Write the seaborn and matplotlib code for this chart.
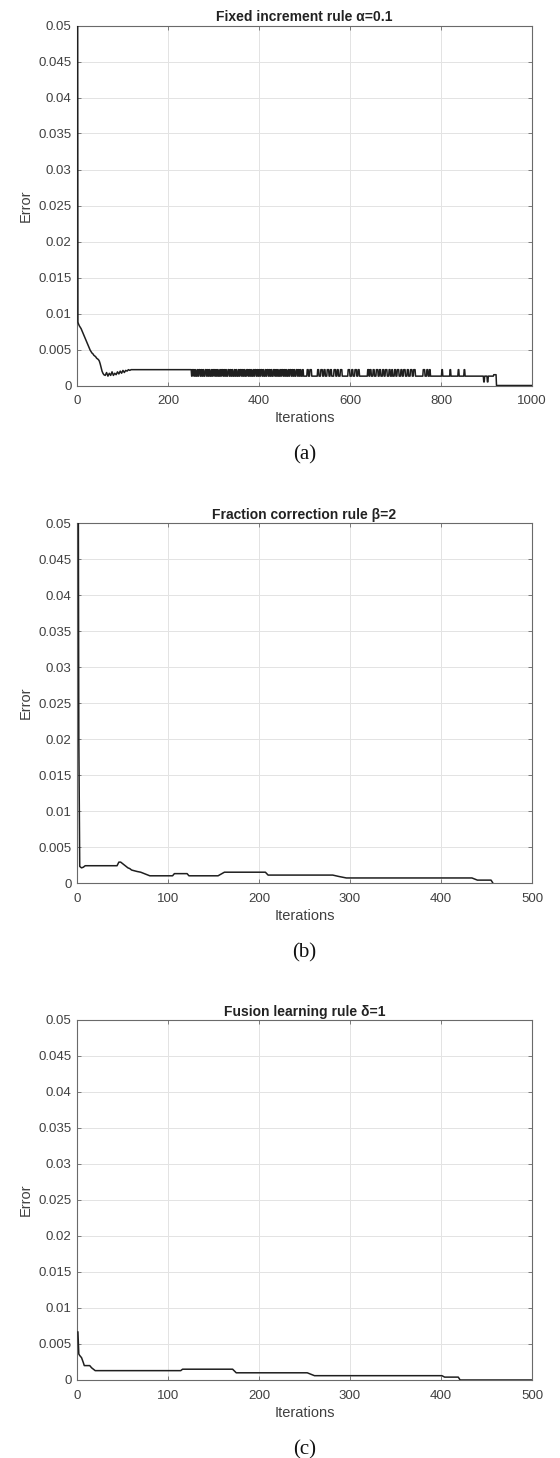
import numpy as np
import pandas as pd
import matplotlib
matplotlib.use("Agg")
import matplotlib.pyplot as plt
import seaborn as sns

# ---------------- data ----------------
titles = ["Fixed increment rule α=0.1", "Fraction correction rule β=2", "Fusion learning rule δ=1"]
captions = ["(a)", "(b)", "(c)"]
y_ticks = [0, 0.005, 0.01, 0.015, 0.02, 0.025, 0.03, 0.035, 0.04, 0.045, 0.05]
y_tick_labels = ["0", "0.005", "0.01", "0.015", "0.02", "0.025", "0.03", "0.035", "0.04", "0.045", "0.05"]
a_x_ticks = [0, 200, 400, 600, 800, 1000]
bc_x_ticks = [0, 100, 200, 300, 400, 500]

# panel (a): early descent (explicit points)
a_early_x = [1, 2, 3, 5, 7, 9, 11, 13, 15, 17, 19, 21, 23, 25, 27, 29, 31, 33, 35, 37, 39,
             41, 43, 45, 47, 49, 51, 53, 55, 57, 59, 62, 65, 68, 71, 74, 77, 80, 83, 86,
             89, 92, 95, 98, 101, 104, 107, 110, 113, 116, 119]
a_early_y = [0.09, 0.0088, 0.0086, 0.0083, 0.0081, 0.0079, 0.0076, 0.0073, 0.0070, 0.0067,
             0.0064, 0.0061, 0.0058, 0.0055, 0.0052, 0.0049, 0.0047, 0.0045, 0.0044, 0.0042,
             0.0041, 0.0040, 0.0038, 0.0037, 0.0036, 0.0034, 0.0030, 0.0025, 0.0020, 0.0017,
             0.0015, 0.0014, 0.0018, 0.0013, 0.0017, 0.0014, 0.0019, 0.0014, 0.0017, 0.0015,
             0.0019, 0.0016, 0.0020, 0.0017, 0.0021, 0.0018, 0.0021, 0.0020, 0.0022, 0.0021, 0.0022]
# panel (a): level codes per iteration from 120 on
a_levels = {"H": 0.0022, "L": 0.0013, "D": 0.0005, "M": 0.0015, "Z": 0.0}
a_flat = [(120, 250, "H"), (250, 922, "L"), (922, 1001, "Z")]
a_bursts = [
    (250, "HHLLHHHLLHHLLLHHLLHHHLLHHLLHHLLLHHHLLHHLLHHLLLHHLL"
          "HHHLLHHLLHHLLLHHLLHHHLLHHLLHHLLLHHHLLHHLLHHLLLHHLL"
          "HHLLLHHLLHHHLLHHLLHHLLLHHHLLHHLLHHLLLHHLLHHHLLHHLL"
          "HHLLHHHLLHHLLLHHLLHHHLLHHLLHHLLLHHHLLHHLLHHLLLHHLL"
          "HHHLLHHLLHHLLLHHLLHHHLLHHLLHHLLLHHHLLHHLLHHLLLHHLL"),
    (506, "HHHLLLHHHHLL"),
    (529, "HHHLLLLHHHHLLLHHHLLLLHHHHLLLHHHLLLLLHHHHLLLHHHLLLLHHHH"),
    (596, "HHHHLLLLHHHLLLLHHHHLLLHHH"),
    (639, "HHHLLHHH"),
    (651, "HHHLLLLHHHHLLLHHHLLLLHHHLLLHHHHLLLLHHHLLLHH"),
    (698, "HHHLLLHHHHLLLLHHHLLLHHHHLLLLHHHLLLLHHHHLLLHHHH"),
    (761, "HHHHLLLLHHHLLLHH"),
    (802, "HH"), (820, "HH"), (838, "HH"), (851, "HH"),
    (894, "DD"), (902, "DD"),
    (916, "MMMMMM"),
]

# panel (b)
b_x = [1, 2, 3, 5, 7, 9, 44, 46, 48, 50, 52, 54, 56, 58, 60, 63, 66, 70, 74, 78, 80,
       105, 107, 121, 123, 155, 162, 207, 210, 281, 288, 296, 434, 440, 455, 457]
b_y = [0.08, 0.02, 0.0023, 0.0021, 0.0022, 0.0024, 0.0024, 0.0029, 0.0029, 0.0027, 0.0025,
       0.0023, 0.0021, 0.0020, 0.0018, 0.0017, 0.0016, 0.0015, 0.0013, 0.0011, 0.0010,
       0.0010, 0.0013, 0.0013, 0.0010, 0.0010, 0.0015, 0.0015, 0.0011, 0.0011, 0.0009,
       0.0007, 0.0007, 0.0004, 0.0004, 0.0]

# panel (c)
c_x = [1, 2, 3, 5, 7, 8, 14, 16, 18, 20, 114, 116, 171, 175, 253, 261, 401, 404, 419, 421, 500]
c_y = [0.0067, 0.0036, 0.0034, 0.0031, 0.0024, 0.0020, 0.0020, 0.0017, 0.0015, 0.0013,
       0.0013, 0.0015, 0.0015, 0.0010, 0.0010, 0.0006, 0.0006, 0.0004, 0.0004, 0.0, 0.0]

# ---------------- build panel (a) series ----------------
iters = np.arange(120, 1001)
vals = np.zeros(len(iters))
for s, e, code in a_flat:
    vals[(iters >= s) & (iters < e)] = a_levels[code]
for s, pat in a_bursts:
    for k, ch in enumerate(pat):
        idx = s + k - 120
        if 0 <= idx < len(vals):
            vals[idx] = a_levels[ch]
a_x = list(a_early_x) + list(iters)
a_y = list(a_early_y) + list(vals)

series = [
    pd.DataFrame({"Iterations": a_x, "Error": a_y}),
    pd.DataFrame({"Iterations": b_x, "Error": b_y}),
    pd.DataFrame({"Iterations": c_x, "Error": c_y}),
]
xlims = [(0, 1000), (0, 500), (0, 500)]
xticks = [a_x_ticks, bc_x_ticks, bc_x_ticks]

# ---------------- style ----------------
sns.set_theme(style="whitegrid")
plt.rcParams["font.family"] = ["Liberation Sans", "DejaVu Sans"]

W, H = 560, 1458
fig = plt.figure(figsize=(W / 100, H / 100), dpi=100)
left_px, right_px = 77, 532
tops = [25.5, 523, 1020]
ax_h = 360
caption_y = [455, 953, 1450]

for i in range(3):
    top = tops[i]
    ax = fig.add_axes([left_px / W, 1 - (top + ax_h) / H, (right_px - left_px) / W, ax_h / H])
    ax.set_facecolor("white")
    sns.lineplot(data=series[i], x="Iterations", y="Error", ax=ax, color="#1f1f1f",
                 linewidth=1.1, estimator=None, sort=False, zorder=3)
    ax.set_xlim(*xlims[i])
    ax.set_ylim(0, 0.05)
    ax.set_xticks(xticks[i])
    ax.set_xticklabels([str(t) for t in xticks[i]])
    ax.set_yticks(y_ticks)
    ax.set_yticklabels(y_tick_labels)
    ax.grid(True, color="#e3e3e3", linewidth=0.7)
    ax.set_axisbelow(True)
    for sp in ax.spines.values():
        sp.set_visible(True)
        sp.set_color("#6a6a6a")
        sp.set_linewidth(0.8)
    ax.tick_params(axis="both", direction="in", length=3, width=0.6, color="#6a6a6a",
                   labelcolor="#404040", labelsize=9.5, top=True, right=True,
                   bottom=True, left=True)
    ax.tick_params(axis="x", pad=7)
    ax.tick_params(axis="y", pad=4)
    ax.set_xlabel("Iterations", fontsize=10.5, color="#404040", labelpad=3)
    ax.set_ylabel("Error", fontsize=10.5, color="#404040", labelpad=4)
    ax.set_title(titles[i], fontsize=10, fontweight="bold", color="#222222", pad=3)
    fig.text((left_px + right_px) / 2 / W, 1 - caption_y[i] / H, captions[i],
             ha="center", va="center", fontsize=15, family=["Liberation Serif", "DejaVu Serif"],
             color="#111111")

fig.savefig("out.png", dpi=100, facecolor="white")
